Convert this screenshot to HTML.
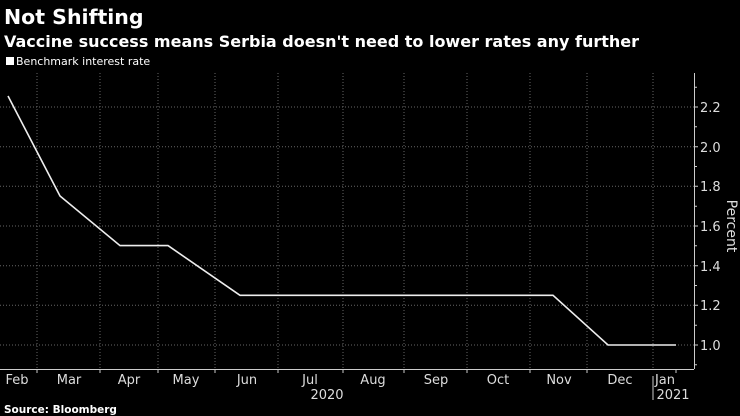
<html><body style="margin:0;background:#000;width:740px;height:416px;overflow:hidden">
<svg width="740" height="416" xmlns="http://www.w3.org/2000/svg" style="font-family:'DejaVu Sans','Liberation Sans',sans-serif">
<text x="4" y="24" fill="#fff" font-size="20.5" font-weight="bold">Not Shifting</text>
<text x="4" y="47" fill="#fff" font-size="16" font-weight="bold">Vaccine success means Serbia doesn't need to lower rates any further</text>
<rect x="6" y="57" width="8" height="8" fill="#fff"/>
<text x="16" y="65" fill="#fff" font-size="11">Benchmark interest rate</text>
<g stroke="#666" stroke-dasharray="1,2" stroke-width="1">
<line x1="0" x2="694" y1="345" y2="345"/><line x1="0" x2="694" y1="305.3" y2="305.3"/><line x1="0" x2="694" y1="265.7" y2="265.7"/><line x1="0" x2="694" y1="226" y2="226"/><line x1="0" x2="694" y1="186.3" y2="186.3"/><line x1="0" x2="694" y1="146.7" y2="146.7"/><line x1="0" x2="694" y1="107" y2="107"/>
<path d="M37 73V369M100 73V369M158 73V369M215 73V369M278 73V369M343 73V369M404 73V369M467 73V369M530 73V369M587 73V369M653 73V369"/>
</g>
<g stroke="#ccc" stroke-width="1">
<line x1="0" x2="694" y1="369.5" y2="369.5"/>
<line x1="694.5" x2="694.5" y1="73" y2="369"/>
<path d="M37 369v4M100 369v4M158 369v4M215 369v4M278 369v4M343 369v4M404 369v4M467 369v4M530 369v4M587 369v4M676 369v4M653 376v24"/>
<path d="M694 345h4M694 305.3h4M694 265.7h4M694 226h4M694 186.3h4M694 146.7h4M694 107h4M694 364.8h3M694 325.2h3M694 285.5h3M694 245.8h3M694 206.2h3M694 166.5h3M694 126.8h3M694 87.2h3"/>
</g>
<polyline fill="none" stroke="#eee" stroke-width="1.6" points="8,96 60,196 120,245.6 168,245.6 240,295.3 553,295.3 608,345 676,345"/>
<g fill="#ddd" font-size="13">
<text x="700" y="350">1.0</text><text x="700" y="310">1.2</text><text x="700" y="271">1.4</text><text x="700" y="231">1.6</text><text x="700" y="191">1.8</text><text x="700" y="152">2.0</text><text x="700" y="112">2.2</text>
<text transform="translate(727,226) rotate(90)" text-anchor="middle" font-size="14">Percent</text>
<g text-anchor="middle"><text x="17" y="384">Feb</text><text x="69" y="384">Mar</text><text x="129" y="384">Apr</text><text x="186" y="384">May</text><text x="247" y="384">Jun</text><text x="310" y="384">Jul</text><text x="373" y="384">Aug</text><text x="436" y="384">Sep</text><text x="498" y="384">Oct</text><text x="559" y="384">Nov</text><text x="620" y="384">Dec</text><text x="665" y="384">Jan</text>
<text x="327" y="399">2020</text><text x="673" y="399">2021</text></g>
</g>
<text x="4" y="413" fill="#fff" font-size="10.5" font-weight="bold">Source: Bloomberg</text>
</svg>
</body></html>
